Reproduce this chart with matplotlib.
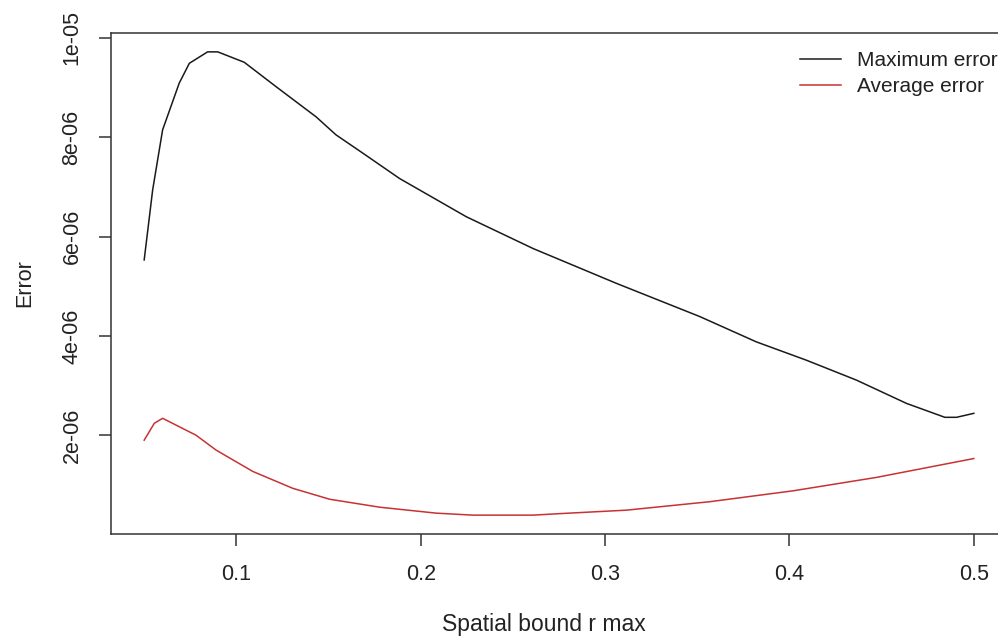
import matplotlib
matplotlib.use("Agg")
import matplotlib.pyplot as plt

plt.rcParams['font.family'] = ['Liberation Sans', 'DejaVu Sans']

# Maximum error curve (x, value in 1e-6 units)
max_x = [0.05, 0.0546, 0.060, 0.069, 0.0745, 0.0844, 0.0899, 0.1043, 0.1215, 0.1433,
         0.154, 0.1686, 0.1885, 0.2247, 0.2609, 0.306, 0.3513, 0.382, 0.4092, 0.4363,
         0.4635, 0.4843, 0.4906, 0.50]
max_v = [5.53, 6.94, 8.15, 9.09, 9.49, 9.72, 9.72, 9.51, 9.02, 8.41,
         8.05, 7.68, 7.17, 6.40, 5.76, 5.06, 4.39, 3.88, 3.51, 3.11,
         2.64, 2.36, 2.36, 2.44]

# Average error curve
avg_x = [0.05, 0.0555, 0.060, 0.0781, 0.089, 0.1089, 0.1306, 0.1506, 0.1777, 0.2084,
         0.2283, 0.2609, 0.2753, 0.3115, 0.3567, 0.402, 0.4472, 0.50]
avg_v = [1.90, 2.24, 2.34, 2.00, 1.70, 1.27, 0.93, 0.71, 0.55, 0.43,
         0.39, 0.39, 0.42, 0.49, 0.66, 0.88, 1.15, 1.53]

x_ticks = [0.1, 0.2, 0.3, 0.4, 0.5]
x_tick_labels = ["0.1", "0.2", "0.3", "0.4", "0.5"]
y_ticks = [2e-6, 4e-6, 6e-6, 8e-6, 1e-5]
y_tick_labels = ["2e-06", "4e-06", "6e-06", "8e-06", "1e-05"]

FS = 15.5
W, H = 998, 638
fig = plt.figure(figsize=(W / 100, H / 100), dpi=100)
left, right, top, bottom = 111, 1007, 33, 534
ax = fig.add_axes([left / W, 1 - bottom / H, (right - left) / W, (bottom - top) / H])

ax.plot(max_x, [v * 1e-6 for v in max_v], color='#1a1a1a', lw=1.1, label='Maximum error')
ax.plot(avg_x, [v * 1e-6 for v in avg_v], color='#c83232', lw=1.1, label='Average error')

ax.set_xlim(0.032, 0.518)
ax.set_ylim(0.01e-6, 10.1e-6)

ax.set_xticks(x_ticks)
ax.set_xticklabels(x_tick_labels)
ax.set_yticks(y_ticks)
ax.set_yticklabels(y_tick_labels, rotation=90, va='center')

for s in ax.spines.values():
    s.set_color('#333333')
    s.set_linewidth(1.1)
ax.tick_params(axis='both', length=8.5, width=1.1, color='#333333',
               labelsize=FS, labelcolor='#222222')
ax.tick_params(axis='x', pad=13)
ax.tick_params(axis='y', pad=12)

fig.text(544 / W, 1 - 625 / H, 'Spatial bound r max', ha='center', va='center',
         fontsize=16.5, color='#222222')
fig.text(25 / W, 1 - 283 / H, 'Error', ha='center', va='center', rotation=90,
         fontsize=FS, color='#222222')

leg = ax.legend(loc='upper left', bbox_to_anchor=(800 / W, 1 - 51 / H),
                bbox_transform=fig.transFigure, frameon=False, fontsize=15,
                handlelength=1.95, handletextpad=0.8, labelspacing=0.33,
                borderaxespad=0, borderpad=0)
for t in leg.get_texts():
    t.set_color('#222222')

fig.savefig('out.png', dpi=100)
